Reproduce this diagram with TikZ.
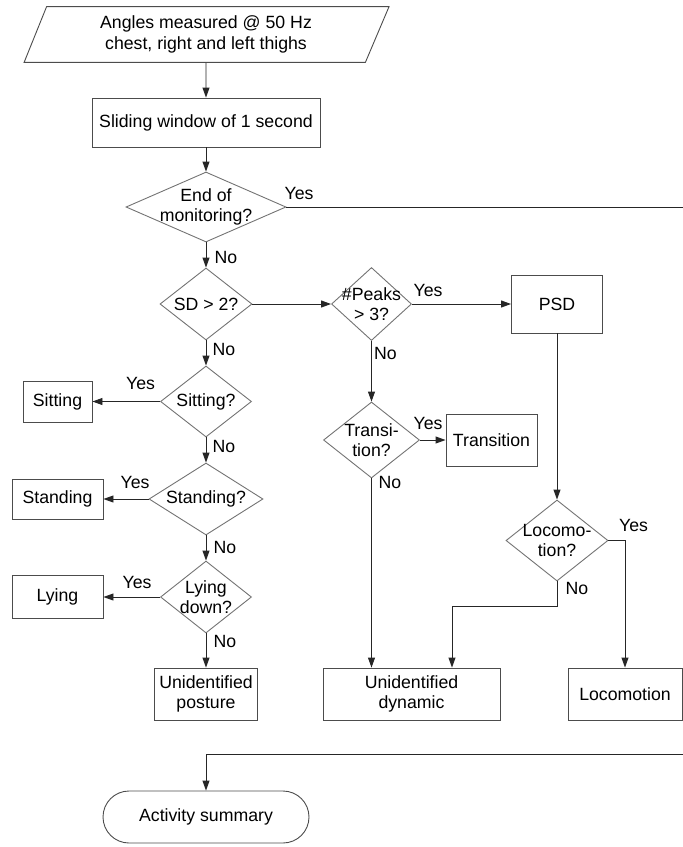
\documentclass[tikz,border=0pt]{standalone}
\usepackage{fontspec}
\setmainfont{Liberation Sans}
\definecolor{boxgrey}{rgb}{0.3,0.3,0.3}
\definecolor{diamondgrey}{rgb}{0.45,0.45,0.45}
\definecolor{flowgrey}{rgb}{0.15,0.15,0.15}
\usetikzlibrary{shapes.geometric,arrows.meta}

\begin{document}
\begin{tikzpicture}[x=1pt, y=-1pt, font=\fontsize{17.7}{20.5}\selectfont,
	process/.style={draw=boxgrey, line width=0.9pt, rectangle, inner sep=0pt, align=center},
	data/.style={draw=boxgrey, line width=0.9pt, trapezium, trapezium left angle=68, trapezium right angle=113, inner sep=0pt, align=center},
	decision/.style={draw=diamondgrey, line width=0.9pt, diamond, inner sep=0pt},
	terminal/.style={draw=boxgrey, line width=0.9pt, rectangle, rounded corners=26pt, inner sep=0pt},
	flow/.style={draw=flowgrey, line width=0.9pt, -{Triangle[length=10pt,width=7pt]}},
	answer/.style={inner sep=0pt}]
	\clip (0,0) rectangle (683,847);

	\node[data, minimum width=367pt, minimum height=55pt] (input) at (206,34.5) {Angles measured @ 50 Hz\\chest, right and left thighs};
	\node[process, minimum width=228pt, minimum height=49pt] (window) at (206,122.5) {Sliding window of 1 second};
	\node[decision, minimum width=160pt, minimum height=70pt, label={[align=center]center:End of\\monitoring?}] (endmon) at (206,207) {};
	\node[decision, minimum width=92pt, minimum height=72pt, label={center:SD > 2?}] (sd) at (206,304) {};
	\node[decision, minimum width=80pt, minimum height=73pt, label={[align=center]center:\#Peaks\\> 3?}] (peaks) at (371.5,304) {};
	\node[process, minimum width=91pt, minimum height=58pt] (psd) at (557,304) {PSD};
	\node[decision, minimum width=96pt, minimum height=76pt, label={[align=center]center:Transi-\\tion?}] (trans) at (371.5,440) {};
	\node[process, minimum width=91pt, minimum height=52pt] (transbox) at (491.5,440) {Transition};
	\node[decision, minimum width=91pt, minimum height=71pt, label={center:Sitting?}] (sit) at (206,401.5) {};
	\node[process, minimum width=69pt, minimum height=41pt] (sitbox) at (57.5,401.5) {Sitting};
	\node[decision, minimum width=114pt, minimum height=72pt, label={center:Standing?}] (stand) at (206,499) {};
	\node[process, minimum width=91pt, minimum height=40pt] (standbox) at (57.5,499) {Standing};
	\node[decision, minimum width=91pt, minimum height=72pt, label={[align=center]center:Lying\\down?}] (lie) at (206,597) {};
	\node[process, minimum width=91pt, minimum height=43pt] (liebox) at (57.5,597) {Lying};
	\node[process, minimum width=103pt, minimum height=52pt] (unpost) at (206,694) {Unidentified\\posture};
	\node[process, minimum width=177pt, minimum height=52pt] (undyn) at (411.5,694) {Unidentified\\dynamic};
	\node[decision, minimum width=102pt, minimum height=81pt, label={[align=center]center:Locomo-\\tion?}] (loco) at (557,540.5) {};
	\node[process, minimum width=114pt, minimum height=52pt] (locobox) at (625,694) {Locomotion};
	\node[terminal, minimum width=206pt, minimum height=52pt] (summary) at (206,817) {Activity summary};

	\coordinate (turn) at (700,754);
	\coordinate (merge) at (452,606);

	\draw[flow] (input.south) -- (window.north);
	\draw[flow] (window.south) -- (endmon.north);
	\draw[flow] (endmon.east) -| (turn) -| (summary.north);
	\draw[flow] (endmon.south) -- (sd.north);
	\draw[flow] (sd.east) -- (peaks.west);
	\draw[flow] (peaks.east) -- (psd.west);
	\draw[flow] (peaks.south) -- (trans.north);
	\draw[flow] (trans.east) -- (transbox.west);
	\draw[flow] (trans.south) -- (trans.south |- undyn.north);
	\draw[flow] (psd.south) -- (loco.north);
	\draw[flow] (loco.east) -| (locobox.north);
	\draw[flow] (loco.south) |- (merge) -- (merge |- undyn.north);
	\draw[flow] (sd.south) -- (sit.north);
	\draw[flow] (sit.west) -- (sitbox.east);
	\draw[flow] (sit.south) -- (stand.north);
	\draw[flow] (stand.west) -- (standbox.east);
	\draw[flow] (stand.south) -- (lie.north);
	\draw[flow] (lie.west) -- (liebox.east);
	\draw[flow] (lie.south) -- (unpost.north);

	\node[answer] (endyes) at (299,193) {Yes};
	\node[answer] (endno) at (226,257) {No};
	\node[answer] (sdno) at (224,349) {No};
	\node[answer] (sityes) at (140.5,383) {Yes};
	\node[answer] (sitno) at (224,446) {No};
	\node[answer] (standyes) at (135,482) {Yes};
	\node[answer] (standno) at (225,547) {No};
	\node[answer] (lieyes) at (137,582) {Yes};
	\node[answer] (lieno) at (225,641) {No};
	\node[answer] (peaksyes) at (428,290) {Yes};
	\node[answer] (peaksno) at (385.5,353) {No};
	\node[answer] (transyes) at (428,423) {Yes};
	\node[answer] (transno) at (390,482) {No};
	\node[answer] (locoyes) at (633.5,525) {Yes};
	\node[answer] (locono) at (577,588) {No};
\end{tikzpicture}
\end{document}
